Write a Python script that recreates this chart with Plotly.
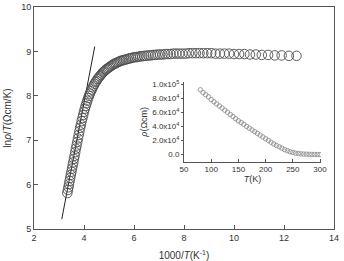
import plotly.graph_objects as go

# Main panel: temperature grid (K) and ln(rho/T)
T_main = [300, 298, 296, 294, 292, 290, 288, 286, 284, 282, 280, 278, 276, 274, 272, 270,
          268, 266, 264, 262, 260, 258, 256, 254, 252, 250, 248, 246, 244, 242, 240, 238,
          236, 234, 232, 230, 228, 226, 224, 222, 220, 218, 216, 214, 212, 210, 208, 206,
          204, 202, 200, 198, 196, 194, 192, 190, 188, 186, 184, 182, 180, 178, 176, 174,
          172, 170, 168, 166, 164, 162, 160, 158, 156, 154, 152, 150, 148, 146, 144, 142,
          140, 138, 136, 134, 132, 130, 128, 126, 124, 122, 120, 118, 116, 114, 112, 110,
          108, 106, 104, 102, 100, 98, 96, 94, 92, 90, 88, 86, 84, 82, 80]
ln_rho_T = [5.81, 5.88, 5.94, 6.01, 6.08, 6.15, 6.22, 6.29, 6.36, 6.43, 6.50, 6.58, 6.65, 6.73, 6.81, 6.88,
            6.96, 7.04, 7.12, 7.20, 7.28, 7.35, 7.43, 7.50, 7.57, 7.64, 7.71, 7.77, 7.83, 7.89, 7.95, 8.00,
            8.05, 8.10, 8.14, 8.19, 8.23, 8.27, 8.31, 8.34, 8.38, 8.41, 8.44, 8.47, 8.50, 8.53, 8.55, 8.58,
            8.60, 8.62, 8.64, 8.66, 8.68, 8.70, 8.72, 8.73, 8.75, 8.76, 8.78, 8.79, 8.80, 8.81, 8.82, 8.83,
            8.84, 8.85, 8.86, 8.87, 8.87, 8.88, 8.89, 8.89, 8.90, 8.90, 8.91, 8.91, 8.92, 8.92, 8.93, 8.93,
            8.93, 8.94, 8.94, 8.94, 8.95, 8.95, 8.95, 8.95, 8.95, 8.96, 8.96, 8.96, 8.96, 8.96, 8.96, 8.96,
            8.95, 8.95, 8.95, 8.95, 8.94, 8.94, 8.94, 8.93, 8.93, 8.92, 8.92, 8.91, 8.91, 8.90, 8.90]

# Fit line endpoints
fit_x = [3.11, 4.43]
fit_y = [5.22, 9.11]

# Inset: rho (Ohm cm) vs T
T_inset = [80, 85, 90, 95, 100, 105, 110, 115, 120, 125, 130, 135, 140, 145, 150, 155, 160,
           165, 170, 175, 180, 185, 190, 195, 200, 205, 210, 215, 220, 225, 230, 235, 240,
           245, 250, 255, 260, 265, 270, 275, 280, 285, 290, 295, 300]
rho_inset = [92000, 88000, 85000, 82000, 78000, 75000, 72000, 69000, 66000, 63000, 60000,
             57000, 54000, 51000, 48000, 45500, 43000, 40000, 37500, 35000, 32500, 30000,
             27500, 25000, 22500, 20000, 17500, 15000, 13000, 11000, 9000, 7000, 5500, 4000,
             3000, 2000, 1500, 1000, 700, 500, 300, 200, 100, 0, 0]

main_xticks = [2, 4, 6, 8, 10, 12, 14]
main_yticks = [5, 6, 7, 8, 9, 10]
inset_xticks = [50, 100, 150, 200, 250, 300]
inset_yvals = [0, 20000, 40000, 60000, 80000, 100000]
inset_ytext = ["0.0", "2.0x10<sup>4</sup>", "4.0x10<sup>4</sup>", "6.0x10<sup>4</sup>",
               "8.0x10<sup>4</sup>", "1.0x10<sup>5</sup>"]

x_main = [1000.0 / t for t in T_main]

FONT = "Liberation Sans, Arial, sans-serif"
AX = "#555555"
TXT = "#333333"

fig = go.Figure()
fig.add_trace(go.Scatter(x=fit_x, y=fit_y, mode="lines",
                         line=dict(color="#222222", width=1), xaxis="x", yaxis="y",
                         showlegend=False))
fig.add_trace(go.Scatter(x=x_main, y=ln_rho_T, mode="markers",
                         marker=dict(symbol="circle-open", size=9.5, color="#4d4d4d",
                                     line=dict(width=0.9)),
                         xaxis="x", yaxis="y", showlegend=False))
fig.add_trace(go.Scatter(x=T_inset, y=rho_inset, mode="markers",
                         marker=dict(symbol="circle-open", size=4.5, color="#888888",
                                     line=dict(width=0.8)),
                         xaxis="x2", yaxis="y2", showlegend=False))

fig.update_layout(
    width=344, height=261,
    margin=dict(l=34, r=9, t=4, b=32),
    paper_bgcolor="white", plot_bgcolor="white",
    font=dict(family=FONT, color=TXT, size=9),
    xaxis=dict(domain=[0, 1], range=[2, 14], tickvals=main_xticks, automargin=False,
               showline=True, mirror=True, linecolor=AX, linewidth=1,
               ticks="inside", ticklen=4, tickcolor=AX, showgrid=False, zeroline=False,
               tickfont=dict(size=9),
               title=dict(text="1000/<i>T</i>(K<sup>-1</sup>)", font=dict(size=10), standoff=12)),
    yaxis=dict(domain=[0, 1], range=[5, 10], tickvals=main_yticks, automargin=False,
               showline=True, mirror=True, linecolor=AX, linewidth=1,
               ticks="inside", ticklen=4, tickcolor=AX, showgrid=False, zeroline=False,
               tickfont=dict(size=9),
               title=dict(text="ln<i>ρ</i>/<i>T</i>(Ωcm/K)", font=dict(size=10), standoff=7)),
    xaxis2=dict(domain=[0.5, 0.957], range=[50, 302], tickvals=inset_xticks,
                anchor="y2", showline=True, mirror=False, linecolor=AX, linewidth=1,
                ticks="inside", ticklen=3, tickcolor=AX, showgrid=False, zeroline=False,
                tickfont=dict(size=8),
                title=dict(text="<i>T</i>(K)", font=dict(size=9), standoff=1)),
    yaxis2=dict(domain=[0.3036, 0.662], range=[-10000, 103000], tickvals=inset_yvals,
                ticktext=inset_ytext, anchor="x2", showline=True, mirror=False,
                linecolor=AX, linewidth=1, ticks="outside", ticklen=2, tickcolor=AX,
                showgrid=False, zeroline=False, tickfont=dict(size=8),
                title=dict(text="<i>ρ</i>(Ωcm)", font=dict(size=9), standoff=3)),
)

fig.write_html("out.html")
